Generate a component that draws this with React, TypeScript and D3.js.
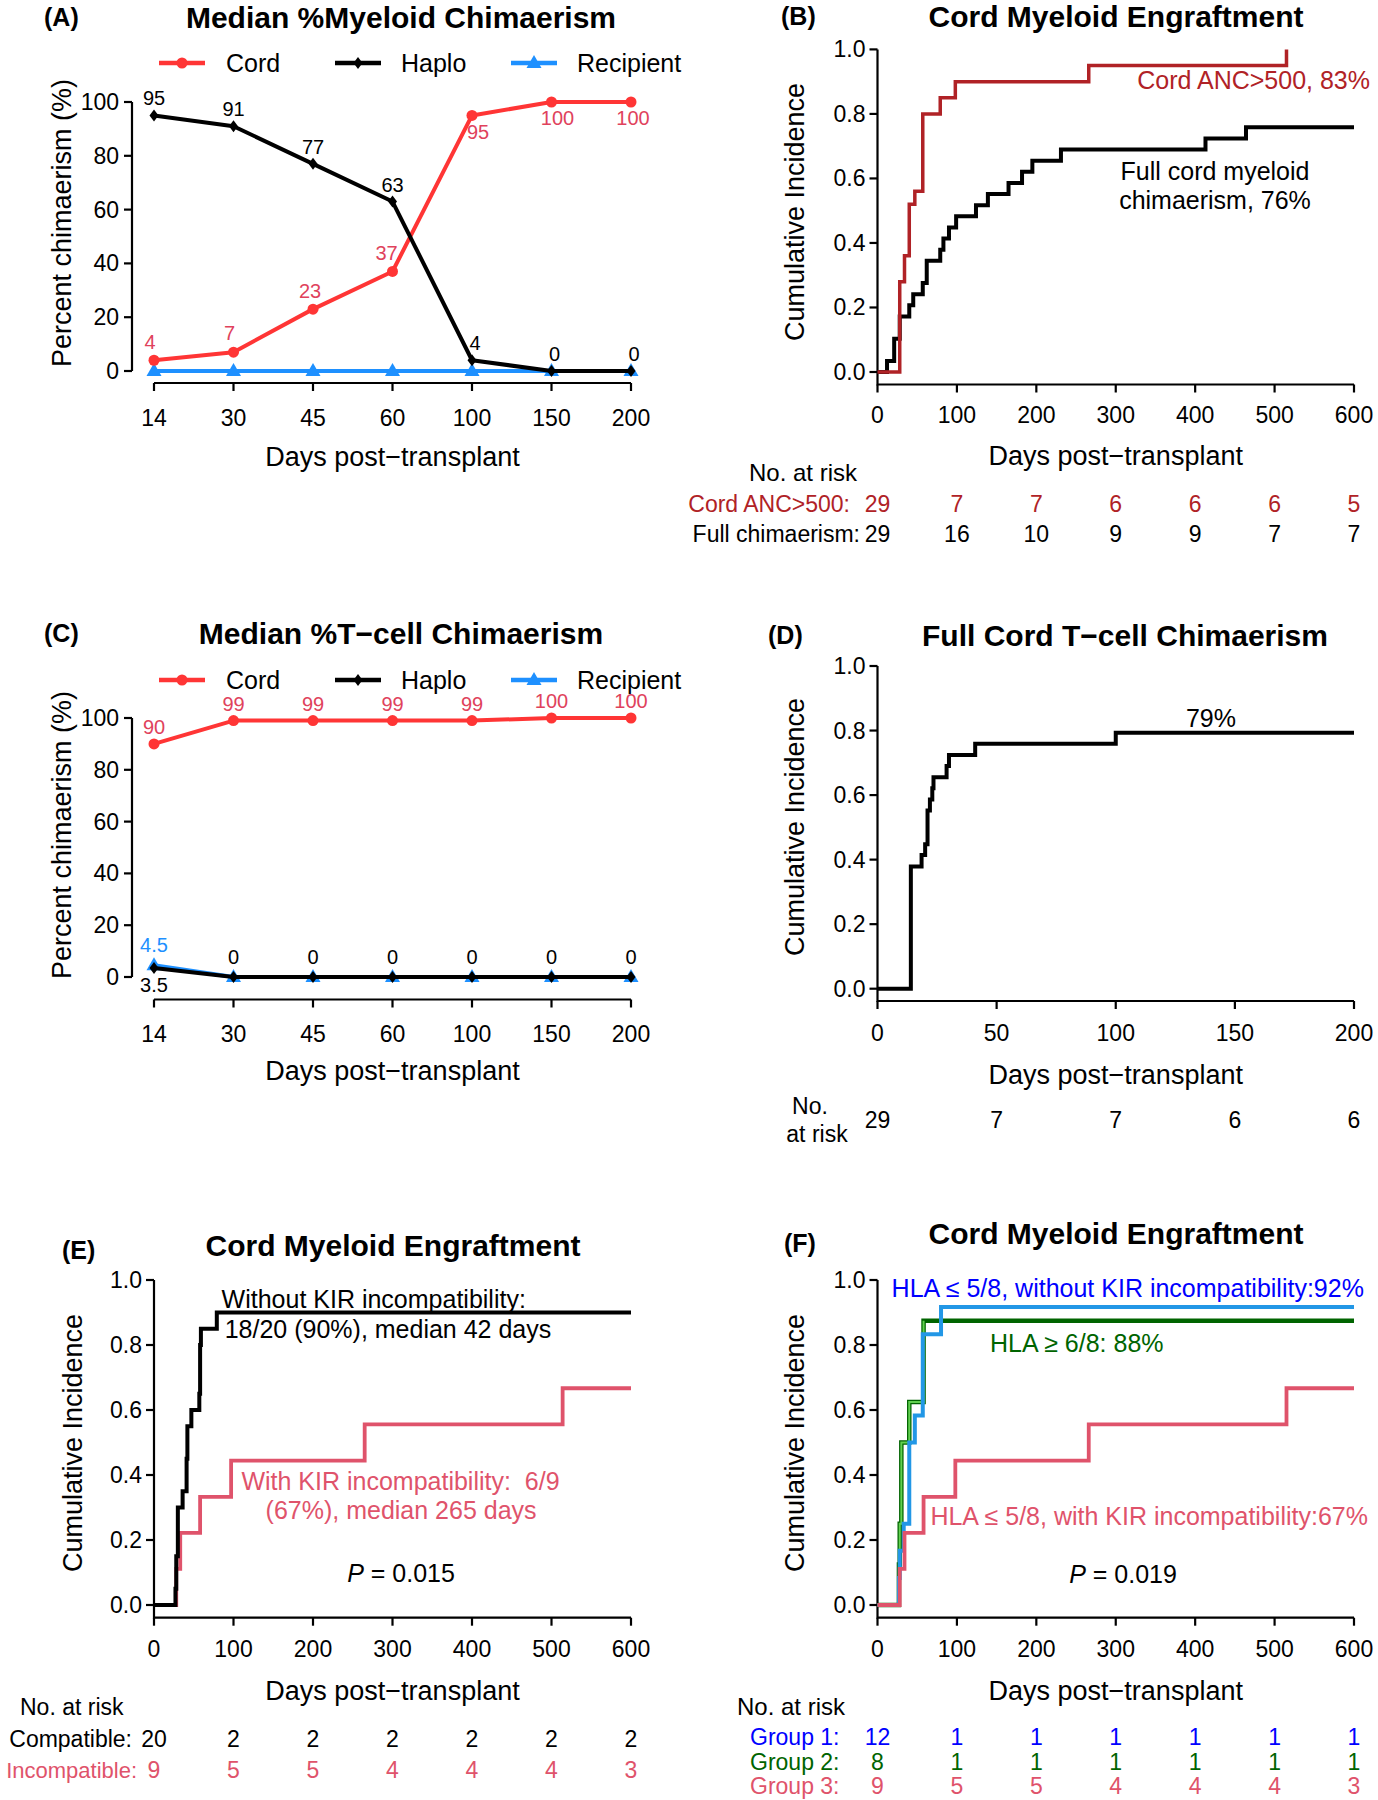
import React from 'react';
import * as d3 from 'd3';

const FONT = '"Liberation Sans", Arial, Helvetica, sans-serif';

// ---- (A) / (C) median chimaerism ----
const days = ['14', '30', '45', '60', '100', '150', '200'];
const pctTicks = [0, 20, 40, 60, 80, 100];
const myeloidCord = [4, 7, 23, 37, 95, 100, 100];
const myeloidHaplo = [95, 91, 77, 63, 4, 0, 0];
const myeloidRecipient = [0, 0, 0, 0, 0, 0, 0];
const tcellCord = [90, 99, 99, 99, 99, 100, 100];
const tcellHaplo = [3.5, 0, 0, 0, 0, 0, 0];
const tcellRecipient = [4.5, 0, 0, 0, 0, 0, 0];
const legendNames = ['Cord', 'Haplo', 'Recipient'];

// ---- (B) cord myeloid engraftment ----
const ancDays = [0, 28, 34, 40, 47, 57, 79, 98, 266, 515];
const ancCI = [0, 0.28, 0.36, 0.52, 0.56, 0.8, 0.85, 0.9, 0.95, 1.0];
const fullMyeDays = [0, 12, 21, 28, 40, 45, 57, 62, 79, 83, 90, 99, 124, 139, 165, 182, 195, 231, 413, 464, 600];
const fullMyeCI = [0, 0.034, 0.103, 0.172, 0.207, 0.241, 0.276, 0.345, 0.379, 0.414, 0.448, 0.483, 0.517, 0.552, 0.586, 0.621, 0.655, 0.69, 0.724, 0.759, 0.759];
const riskTicks600 = [0, 100, 200, 300, 400, 500, 600];
const riskAnc = ['29', '7', '7', '6', '6', '6', '5'];
const riskFullMye = ['29', '16', '10', '9', '9', '7', '7'];

// ---- (D) full cord T-cell chimaerism ----
const tDays = [0, 14, 18.5, 20, 21, 22, 23, 23.5, 29, 30, 41, 100, 200];
const tCI = [0, 0.379, 0.414, 0.448, 0.552, 0.586, 0.621, 0.655, 0.69, 0.724, 0.759, 0.793, 0.793];
const riskTicks200 = [0, 50, 100, 150, 200];
const riskT = ['29', '7', '7', '6', '6'];

// ---- (E) KIR ----
const compatDays = [0, 27, 28, 30, 36, 41, 42, 47, 57, 58, 59, 79, 600];
const compatCI = [0, 0.05, 0.15, 0.3, 0.35, 0.45, 0.55, 0.6, 0.65, 0.8, 0.85, 0.9, 0.9];
const incompDays = [0, 28, 33, 58, 97, 265, 514, 600];
const incompCI = [0, 0.111, 0.222, 0.333, 0.444, 0.556, 0.667, 0.667];
const riskCompat = ['20', '2', '2', '2', '2', '2', '2'];
const riskIncomp = ['9', '5', '5', '4', '4', '4', '3'];

// ---- (F) HLA / KIR groups ----
const g1Days = [0, 27, 28, 33, 40, 47, 57, 80, 600];
const g1CI = [0, 0.083, 0.167, 0.25, 0.5, 0.583, 0.833, 0.917, 0.917];
const g2Days = [0, 27, 28, 30, 40, 58, 600];
const g2CI = [0, 0.125, 0.25, 0.5, 0.625, 0.875, 0.875];
const g3Days = [0, 28, 34, 58, 98, 266, 515, 600];
const g3CI = [0, 0.111, 0.222, 0.333, 0.444, 0.556, 0.667, 0.667];
const riskG1 = ['12', '1', '1', '1', '1', '1', '1'];
const riskG2 = ['8', '1', '1', '1', '1', '1', '1'];
const riskG3 = ['9', '5', '5', '4', '4', '4', '3'];
const ciTicks = [0, 0.2, 0.4, 0.6, 0.8, 1.0];

const RED = '#ff3535';
const RED_TXT = '#e0425c';
const BLUE = '#1e90ff';
const DARKRED = '#b02226';
const PINK = '#df536b';
const LBLUE = '#2297e6';
const DGREEN = '#006400';
const LGREEN = '#61d04f';

type Lbl = { i: number; dy: number; dx?: number };

function marker(kind: string, x: number, y: number, color: string, key: any) {
  if (kind === 'circle') return <circle key={key} cx={x} cy={y} r={5.5} fill={color} />;
  if (kind === 'diamond')
    return <path key={key} d={`M${x},${y - 6}L${x + 4.5},${y}L${x},${y + 6}L${x - 4.5},${y}Z`} fill={color} />;
  return <path key={key} d={`M${x},${y - 8}L${x + 7.5},${y + 5}L${x - 7.5},${y + 5}Z`} fill={color} />;
}

function ChimPanel(p: {
  letter: string; title: string; titleY: number; legendY: number;
  y0: number; y100: number; axisY: number; tickY: number; xTitleY: number; yTitleY: number;
  cord: number[]; haplo: number[]; recip: number[];
  cordLbl: Lbl[]; haploLbl: Lbl[]; recipLbl: Lbl[];
}) {
  const x = d3.scalePoint<string>().domain(days).range([154, 631]);
  const y = d3.scaleLinear().domain([0, 100]).range([p.y0, p.y100]);
  const line = d3.line<number>().x((_, i) => x(days[i])!).y(d => y(d));
  const series = [
    { v: p.recip, c: BLUE, m: 'tri', lbl: p.recipLbl, tc: BLUE },
    { v: p.cord, c: RED, m: 'circle', lbl: p.cordLbl, tc: RED_TXT },
    { v: p.haplo, c: '#000', m: 'diamond', lbl: p.haploLbl, tc: '#000' },
  ];
  const legend = [
    { x0: 159, tx: 226, c: RED, m: 'circle' },
    { x0: 335, tx: 401, c: '#000', m: 'diamond' },
    { x0: 511, tx: 577, c: BLUE, m: 'tri' },
  ];
  const axisX = 132;
  return (
    <g>
      <text x={44} y={p.titleY} dominantBaseline="central" fontWeight="bold" fontSize={25}>{p.letter}</text>
      <text x={401} y={p.titleY} dominantBaseline="central" textAnchor="middle" fontWeight="bold" fontSize={30}>{p.title}</text>
      {legend.map((l, i) => (
        <g key={i}>
          <line x1={l.x0} x2={l.x0 + 46} y1={p.legendY} y2={p.legendY} stroke={l.c} strokeWidth={4.5} />
          {marker(l.m, l.x0 + 23, p.legendY, l.c, 'm')}
          <text x={l.tx} y={p.legendY} dominantBaseline="central" fontSize={25}>{legendNames[i]}</text>
        </g>
      ))}
      <line x1={axisX} x2={axisX} y1={y(0)} y2={y(100)} stroke="#000" strokeWidth={2.2} />
      {pctTicks.map(t => (
        <g key={t}>
          <line x1={axisX - 8} x2={axisX} y1={y(t)} y2={y(t)} stroke="#000" strokeWidth={2.2} />
          <text x={axisX - 13} y={y(t)} dominantBaseline="central" textAnchor="end" fontSize={23}>{t}</text>
        </g>
      ))}
      <line x1={x(days[0])!} x2={x(days[days.length - 1])!} y1={p.axisY} y2={p.axisY} stroke="#000" strokeWidth={2.2} />
      {days.map(d => (
        <g key={d}>
          <line x1={x(d)!} x2={x(d)!} y1={p.axisY} y2={p.axisY + 8} stroke="#000" strokeWidth={2.2} />
          <text x={x(d)!} y={p.tickY} dominantBaseline="central" textAnchor="middle" fontSize={23}>{d}</text>
        </g>
      ))}
      <text x={392.5} y={p.xTitleY} dominantBaseline="central" textAnchor="middle" fontSize={27}>Days post−transplant</text>
      <text transform={`translate(62,${p.yTitleY}) rotate(-90)`} dominantBaseline="central" textAnchor="middle" fontSize={27}>Percent chimaerism (%)</text>
      {series.map((s, si) => (
        <g key={si}>
          <path d={line(s.v)!} fill="none" stroke={s.c} strokeWidth={4} strokeLinejoin="round" />
          {s.v.map((v, i) => marker(s.m, x(days[i])!, y(v), s.c, i))}
        </g>
      ))}
      {series.map((s, si) => (
        <g key={'l' + si}>
          {s.lbl.map(l => (
            <text key={l.i} x={x(days[l.i])! + (l.dx || 0)} y={y(s.v[l.i]) + l.dy} dominantBaseline="central"
              textAnchor="middle" fontSize={20} fill={s.tc}>{String(s.v[l.i])}</text>
          ))}
        </g>
      ))}
    </g>
  );
}

type Curve = { t: number[]; v: number[]; color: string; w: number };
type Txt = { x: number; y: number; s: React.ReactNode; c?: string; anchor?: string; size?: number };

function KMPanel(p: {
  letter: string; letterX: number; letterY: number; title: string; titleX: number; titleY: number;
  xr: [number, number]; xMax: number; xTicks: number[];
  y0: number; y1: number; axisY: number; tickY: number; xTitleY: number;
  yTitleX: number; yTitleY: number; curves: Curve[]; texts: Txt[];
}) {
  const x = d3.scaleLinear().domain([0, p.xMax]).range(p.xr);
  const y = d3.scaleLinear().domain([0, 1]).range([p.y0, p.y1]);
  const step = d3.line<number>().curve(d3.curveStepAfter);
  const ax = p.xr[0];
  return (
    <g>
      <text x={p.letterX} y={p.letterY} dominantBaseline="central" fontWeight="bold" fontSize={25}>{p.letter}</text>
      <text x={p.titleX} y={p.titleY} dominantBaseline="central" textAnchor="middle" fontWeight="bold" fontSize={30}>{p.title}</text>
      <path d={`M${ax},${y(1)}V${p.axisY}H${x(p.xMax)}`} fill="none" stroke="#000" strokeWidth={2.2} />
      {ciTicks.map(t => (
        <g key={t}>
          <line x1={ax - 8} x2={ax} y1={y(t)} y2={y(t)} stroke="#000" strokeWidth={2.2} />
          <text x={ax - 12} y={y(t)} dominantBaseline="central" textAnchor="end" fontSize={23}>{t.toFixed(1)}</text>
        </g>
      ))}
      {p.xTicks.map(t => (
        <g key={t}>
          <line x1={x(t)} x2={x(t)} y1={p.axisY} y2={p.axisY + 8} stroke="#000" strokeWidth={2.2} />
          <text x={x(t)} y={p.tickY} dominantBaseline="central" textAnchor="middle" fontSize={23}>{t}</text>
        </g>
      ))}
      <text x={(p.xr[0] + p.xr[1]) / 2} y={p.xTitleY} dominantBaseline="central" textAnchor="middle" fontSize={27}>Days post−transplant</text>
      <text transform={`translate(${p.yTitleX},${p.yTitleY}) rotate(-90)`} dominantBaseline="central" textAnchor="middle" fontSize={27}>Cumulative Incidence</text>
      {p.curves.map((c, i) => (
        <path key={i} d={step(c.t.map((t, j) => [x(t), y(c.v[j])] as [number, number]))!}
          fill="none" stroke={c.color} strokeWidth={c.w} />
      ))}
      {p.texts.map((t, i) => (
        <text key={i} x={t.x} y={t.y} dominantBaseline="central" textAnchor={(t.anchor as any) || 'start'}
          fontSize={t.size || 25} fill={t.c || '#000'}>{t.s}</text>
      ))}
    </g>
  );
}

function riskRow(ticks: number[], xr: [number, number], xMax: number, vals: string[], y: number, color: string, size = 23) {
  const x = d3.scaleLinear().domain([0, xMax]).range(xr);
  return vals.map((v, i) => ({ x: x(ticks[i]), y, s: v, c: color, anchor: 'middle', size }));
}

export default function App() {
  const right: [number, number] = [877.5, 1354];
  const left: [number, number] = [154, 631];
  return (
    <svg width={1378} height={1800} style={{ position: 'absolute', left: 0, top: 0, background: '#fff' }}
      fontFamily={FONT}>
      <rect width={1378} height={1800} fill="#fff" />
      <ChimPanel letter="(A)" title="Median %Myeloid Chimaerism" titleY={17} legendY={63}
        y0={371} y100={102} axisY={383} tickY={418} xTitleY={457} yTitleY={223}
        cord={myeloidCord} haplo={myeloidHaplo} recip={myeloidRecipient}
        cordLbl={[{ i: 0, dy: -18, dx: -4 }, { i: 1, dy: -19, dx: -4 }, { i: 2, dy: -18, dx: -3 }, { i: 3, dy: -18, dx: -6 },
          { i: 4, dy: 17, dx: 6 }, { i: 5, dy: 16, dx: 6 }, { i: 6, dy: 16, dx: 2 }]}
        haploLbl={[0, 1, 2, 3, 4, 5, 6].map(i => ({ i, dy: -17, dx: i > 3 ? 3 : 0 }))}
        recipLbl={[]} />
      <ChimPanel letter="(C)" title="Median %T−cell Chimaerism" titleY={633} legendY={680}
        y0={977} y100={718} axisY={999.5} tickY={1034} xTitleY={1071} yTitleY={835}
        cord={tcellCord} haplo={tcellHaplo} recip={tcellRecipient}
        cordLbl={[0, 1, 2, 3, 4, 5, 6].map(i => ({ i, dy: -17 }))}
        haploLbl={[{ i: 0, dy: 17 }, ...[1, 2, 3, 4, 5, 6].map(i => ({ i, dy: -20 }))]}
        recipLbl={[{ i: 0, dy: -20 }]} />

      <KMPanel letter="(B)" letterX={781} letterY={16} title="Cord Myeloid Engraftment" titleX={1116} titleY={16}
        xr={right} xMax={600} xTicks={riskTicks600} y0={372} y1={49.4} axisY={384.5} tickY={414.7} xTitleY={455.6}
        yTitleX={795} yTitleY={212}
        curves={[
          { t: fullMyeDays, v: fullMyeCI, color: '#000', w: 4 },
          { t: ancDays, v: ancCI, color: DARKRED, w: 3.5 },
        ]}
        texts={[
          { x: 1370, y: 80, s: 'Cord ANC>500, 83%', c: DARKRED, anchor: 'end' },
          { x: 1215, y: 171, s: 'Full cord myeloid', anchor: 'middle' },
          { x: 1215, y: 200, s: 'chimaerism, 76%', anchor: 'middle' },
          { x: 803, y: 472, s: 'No. at risk', anchor: 'middle', size: 24 },
          { x: 850, y: 504, s: 'Cord ANC>500:', c: DARKRED, anchor: 'end', size: 23 },
          { x: 860, y: 534, s: 'Full chimaerism:', anchor: 'end', size: 23 },
          ...riskRow(riskTicks600, right, 600, riskAnc, 504, DARKRED),
          ...riskRow(riskTicks600, right, 600, riskFullMye, 534, '#000'),
        ]} />

      <KMPanel letter="(D)" letterX={768} letterY={635} title="Full Cord T−cell Chimaerism" titleX={1125} titleY={635}
        xr={right} xMax={200} xTicks={riskTicks200} y0={988.7} y1={666} axisY={1001} tickY={1032.5} xTitleY={1074.5}
        yTitleX={795} yTitleY={827}
        curves={[{ t: tDays, v: tCI, color: '#000', w: 4 }]}
        texts={[
          { x: 1211, y: 717.5, s: '79%', anchor: 'middle' },
          { x: 810, y: 1106, s: 'No.', anchor: 'middle', size: 23 },
          { x: 817, y: 1134, s: 'at risk', anchor: 'middle', size: 23 },
          ...riskRow(riskTicks200, right, 200, riskT, 1120, '#000'),
        ]} />

      <KMPanel letter="(E)" letterX={62} letterY={1250} title="Cord Myeloid Engraftment" titleX={393} titleY={1245}
        xr={left} xMax={600} xTicks={riskTicks600} y0={1605} y1={1280} axisY={1617.7} tickY={1648.5} xTitleY={1690.8}
        yTitleX={73} yTitleY={1443}
        curves={[
          { t: incompDays, v: incompCI, color: PINK, w: 3.8 },
          { t: compatDays, v: compatCI, color: '#000', w: 4 },
        ]}
        texts={[
          { x: 221.6, y: 1298.5, s: 'Without KIR incompatibility:' },
          { x: 224.7, y: 1328.5, s: '18/20 (90%), median 42 days' },
          { x: 241.4, y: 1481, s: 'With KIR incompatibility:\u00a0\u00a06/9', c: PINK },
          { x: 265.6, y: 1510, s: '(67%), median 265 days', c: PINK },
          { x: 401, y: 1573, s: <><tspan fontStyle="italic">P</tspan> = 0.015</>, anchor: 'middle' },
          { x: 20, y: 1707, s: 'No. at risk', size: 23 },
          { x: 132, y: 1739, s: 'Compatible:', anchor: 'end', size: 23 },
          { x: 137, y: 1770, s: 'Incompatible:', c: PINK, anchor: 'end', size: 22 },
          ...riskRow(riskTicks600, left, 600, riskCompat, 1739, '#000'),
          ...riskRow(riskTicks600, left, 600, riskIncomp, 1770, PINK),
        ]} />

      <KMPanel letter="(F)" letterX={784} letterY={1243} title="Cord Myeloid Engraftment" titleX={1116} titleY={1233}
        xr={right} xMax={600} xTicks={riskTicks600} y0={1605} y1={1280} axisY={1617.7} tickY={1648.5} xTitleY={1690.8}
        yTitleX={795} yTitleY={1443}
        curves={[
          { t: g2Days, v: g2CI, color: DGREEN, w: 4.5 },
          { t: g2Days.slice(0, 6), v: g2CI.slice(0, 6), color: LGREEN, w: 2 },
          { t: g1Days, v: g1CI, color: LBLUE, w: 4 },
          { t: g3Days, v: g3CI, color: PINK, w: 3.8 },
        ]}
        texts={[
          { x: 891.6, y: 1288, s: 'HLA ≤ 5/8, without KIR incompatibility:92%', c: '#0000ff' },
          { x: 990, y: 1343, s: 'HLA ≥ 6/8: 88%', c: DGREEN },
          { x: 930.4, y: 1516, s: 'HLA ≤ 5/8, with KIR incompatibility:67%', c: PINK },
          { x: 1123, y: 1573.5, s: <><tspan fontStyle="italic">P</tspan> = 0.019</>, anchor: 'middle' },
          { x: 737, y: 1706, s: 'No. at risk', size: 24 },
          { x: 750, y: 1737, s: 'Group 1:', c: '#0000ff', size: 23 },
          { x: 750, y: 1762, s: 'Group 2:', c: DGREEN, size: 23 },
          { x: 750, y: 1786, s: 'Group 3:', c: PINK, size: 23 },
          ...riskRow(riskTicks600, right, 600, riskG1, 1737, '#0000ff'),
          ...riskRow(riskTicks600, right, 600, riskG2, 1762, DGREEN),
          ...riskRow(riskTicks600, right, 600, riskG3, 1786, PINK),
        ]} />
    </svg>
  );
}
